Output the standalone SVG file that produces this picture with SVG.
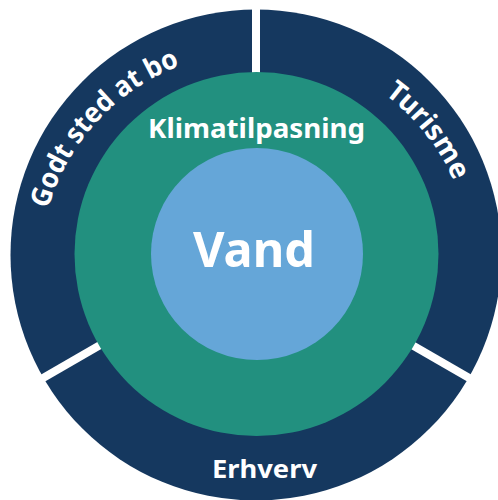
<svg xmlns="http://www.w3.org/2000/svg" width="498" height="500" viewBox="0 0 498 500">
  <style>
    .lbl { font-family: "Noto Sans", "Open Sans", "Liberation Sans", sans-serif; font-weight: 700; fill: #ffffff; }
    .ring { fill: #15385f; }
    .gap { stroke: #ffffff; stroke-width: 8; }
  </style>
  <defs>
    <path id="arcGodt" d="M 53.0 341.9 A 216 216 0 0 1 293.5 55.3" fill="none"/>
    <path id="arcTurisme" d="M 293.5 55.3 A 216 216 0 0 1 459.0 341.9" fill="none"/>
  </defs>
  <rect width="498" height="500" fill="#ffffff"/>
  <g id="outer-ring">
    <circle class="ring" cx="256" cy="255" r="245.5"/>
  </g>
  <g id="separators">
    <line class="gap" x1="256" y1="255" x2="256" y2="0"/>
    <line class="gap" x1="256" y1="255" x2="-3.8" y2="405"/>
    <line class="gap" x1="256" y1="255" x2="515.8" y2="405"/>
  </g>
  <g id="godt-sted-at-bo">
    <text class="lbl" font-size="28"><textPath href="#arcGodt" startOffset="236" text-anchor="middle" textLength="202" lengthAdjust="spacingAndGlyphs">Godt sted at bo</textPath></text>
  </g>
  <g id="turisme">
    <text class="lbl" font-size="28"><textPath href="#arcTurisme" startOffset="156" text-anchor="middle" textLength="112" lengthAdjust="spacingAndGlyphs">Turisme</textPath></text>
  </g>
  <g id="erhverv">
    <text class="lbl" x="264.5" y="478" font-size="25" text-anchor="middle" textLength="105" lengthAdjust="spacingAndGlyphs">Erhverv</text>
  </g>
  <g id="klimatilpasning">
    <circle cx="256.5" cy="254" r="182" fill="#22907f"/>
    <text class="lbl" x="256.5" y="138" font-size="27" text-anchor="middle" textLength="217" lengthAdjust="spacingAndGlyphs">Klimatilpasning</text>
  </g>
  <g id="vand">
    <circle cx="257" cy="254" r="106" fill="#65a6d8"/>
    <text class="lbl" x="254" y="267" font-size="49" text-anchor="middle" textLength="122" lengthAdjust="spacingAndGlyphs">Vand</text>
  </g>
</svg>
